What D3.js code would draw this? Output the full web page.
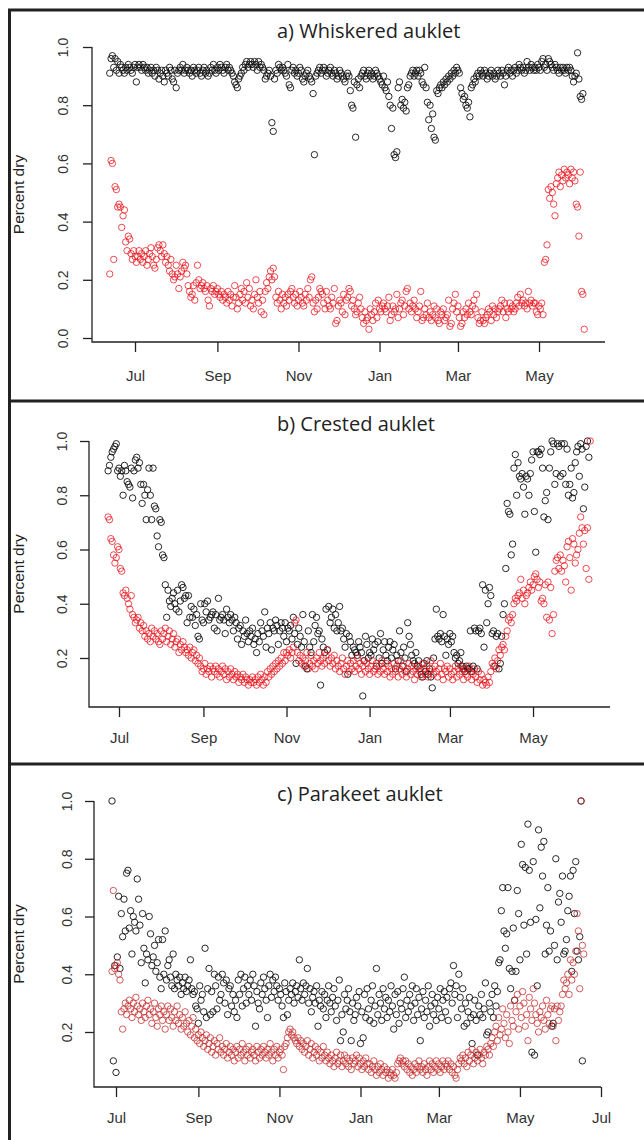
<!DOCTYPE html>
<html>
<head>
<meta charset="utf-8">
<script src="https://cdn.jsdelivr.net/npm/d3@7"></script>
<style>
  body { margin: 0; background: #fff; }
  svg { display: block; }
</style>
</head>
<body>
<div id="chart"></div>
<script>
// ---- data (daily values, percent dry x100) ----
const titles = ["a) Whiskered auklet", "b) Crested auklet", "c) Parakeet auklet"];
const yTicksA = [0, 0.2, 0.4, 0.6, 0.8, 1.0];
const yTicksBC = [0.2, 0.4, 0.6, 0.8, 1.0];
const monthTicks = ["2010-07-01", "2010-09-01", "2010-11-01", "2011-01-01", "2011-03-01", "2011-05-01"];
const monthTicksC = ["2010-07-01", "2010-09-01", "2010-11-01", "2011-01-01", "2011-03-01", "2011-05-01", "2011-07-01"];

const whiskeredStart = "2010-06-12";
const whiskeredBlack = [
  91,96,97,93,96,92,95,91,94,93, 92,91,93,92,94,93,92,91,93,94,
  88,93,94,93,92,94,93,92,93,91, 92,93,91,92,90,93,92,89,91,92, 90,88,92,91,90,93,92,89,88,92,
  86,91,92,93,92,94,91,92,93,92, 91,92,90,93,92,91,92,93,91,90, 92,93,91,92,90,91,93,92,94,92,
  91,93,92,94,93,92,91,93,94,92, 93,92,91,90,88,87,86,89,90,91, 93,92,94,95,93,94,95,94,93,95,
  94,92,95,93,94,93,92,89,90,91, 92,90,74,71,89,92,91,94,93,92, 93,92,91,90,94,87,86,92,93,91,
  92,90,91,93,92,89,88,90,91,92, 90,89,88,84,63,90,91,92,93,91, 92,93,92,90,91,92,93,91,90,92,
  91,89,90,92,91,90,89,88,90,91, 90,85,80,79,88,69,87,89,86,90, 91,92,90,89,91,92,90,91,89,90,
  92,91,90,89,88,87,90,86,85,88, 83,80,72,79,63,62,64,86,88,80, 82,79,81,78,86,87,90,91,92,90,
  91,92,90,92,91,88,87,93,86,81, 75,80,72,77,69,68,85,84,86,87, 86,88,87,89,88,90,89,91,90,92,
  91,93,92,91,86,84,82,83,80,79, 81,76,86,87,89,88,90,91,90,92, 91,90,92,91,89,90,91,92,90,91,
  89,90,92,91,90,92,91,87,90,92, 93,91,92,90,92,93,91,92,94,93, 92,93,91,92,95,93,92,94,93,92,
  93,92,94,93,92,95,96,93,94,92, 96,95,94,93,92,94,93,92,91,93, 92,93,92,91,93,92,93,92,90,88,
  90,91,98,89,83,82,84
];
const whiskeredRed = [
  22,61,60,27,52,51,45,46,45,38, 42,44,33,30,35,34,29,27,30,28,
  26,28,30,27,29,26,28,30,25,27, 29,31,28,25,24,27,31,32,30,28, 32,29,26,28,25,23,27,22,20,21,
  25,22,17,21,23,26,24,25,22,18, 16,14,15,18,13,19,25,20,17,18, 19,17,16,18,13,11,17,16,18,15,
  16,17,15,14,16,13,15,14,12,16, 13,15,11,14,18,14,10,12,15,17, 13,16,12,19,14,17,11,13,10,15,
  20,14,12,16,9,13,8,16,19,17, 21,23,20,24,21,14,12,16,13,10, 15,12,14,11,15,13,16,17,14,12,
  15,11,13,16,14,12,11,15,13,17, 14,20,21,12,9,13,10,14,17,16, 15,12,10,16,13,11,10,14,12,17,
  5,6,11,13,12,9,15,8,13,14, 17,16,11,13,10,8,9,12,14,10, 7,5,9,6,7,3,10,8,6,9,
  12,7,13,10,9,11,12,10,9,11, 14,6,8,11,9,10,15,7,10,12, 13,8,11,16,17,10,12,9,11,13,
  10,7,9,11,16,6,7,10,8,12, 7,9,6,8,11,7,10,6,5,9, 8,10,6,7,8,13,4,5,10,12,
  15,9,11,7,4,5,9,7,10,8, 12,9,8,11,13,10,15,7,5,6, 9,6,5,7,8,10,9,6,11,8,
  10,7,9,10,11,13,9,12,7,10, 9,12,10,11,9,10,12,14,11,15, 12,13,11,12,10,16,12,13,11,12,
  12,9,8,11,10,12,8,26,27,32, 51,48,52,50,46,42,53,55,57,52, 56,54,58,55,57,56,53,58,55,57,
  54,46,45,35,57,16,15,3
];

const crestedStart = "2010-06-23";
const crestedBlack = [
  89,91,94,96,97,98,99,89,
  90,87,89,80,91,89,85,84,83,90, 79,89,93,94,90,92,84,77,84,80, 71,82,90,80,71,90,76,75,65,61,
  71,70,58,57,47,35,45,41,39,42, 44,40,38,45,37,41,47,46,42,43, 33,43,35,39,35,38,32,36,28,27,
  40,34,33,40,37,41,34,35,36,37, 31,36,30,42,34,35,36,34,29,38, 35,33,36,34,30,35,33,27,31,32,
  25,30,28,34,29,26,30,28,31,25, 27,22,29,26,33,30,28,37,24,31, 29,33,23,31,30,34,32,25,30,33,
  31,28,33,26,31,30,32,27,35,29, 18,25,31,28,24,36,26,17,16,30, 24,22,36,26,32,35,29,30,10,27,
  24,22,38,23,39,33,35,38,31,36, 30,33,39,30,31,27,24,29,14,28, 26,21,24,23,22,21,26,24,22,6,
  19,28,25,20,22,21,27,23,25,17, 26,20,29,18,23,26,21,19,24,26, 20,23,25,16,21,19,30,22,17,24,
  20,15,33,28,25,21,19,18,22,17, 19,16,14,13,18,15,19,14,16,13, 9,20,27,38,28,27,29,26,36,28,
  21,27,25,29,26,28,22,20,21,18, 19,22,17,16,15,17,16,16,30,15, 17,31,30,16,30,31,29,47,24,45,
  33,40,46,43,29,30,17,28,29,16, 18,28,36,40,53,77,74,73,58,62, 90,95,80,92,87,86,88,83,73,87,
  86,80,88,93,96,74,59,96,96,95, 97,90,72,78,81,71,90,96,100,99, 84,88,99,98,87,99,88,99,84,97,
  80,84,90,79,81,92,96,98,87,99, 97,75,83,98,100,94
];
const crestedRed = [
  72,71,64,63,58,55,57,61,
  60,53,52,44,43,45,42,40,38,43, 36,35,33,34,35,31,33,30,32,28, 30,27,29,26,31,28,30,27,29,26,
  25,30,27,29,31,26,28,30,25,27, 29,24,26,27,22,25,23,26,24,22, 23,21,24,20,22,23,19,21,18,20,
  17,15,16,18,14,16,15,17,13,16, 15,17,14,16,13,15,17,14,16,12, 15,13,16,14,12,15,13,14,11,13,
  12,14,11,13,12,10,12,11,13,11, 12,10,13,11,14,12,10,13,11,15, 13,16,14,17,15,18,16,19,17,20,
  18,22,19,22,21,23,20,22,24,33, 34,22,19,21,18,20,17,19,22,16, 18,21,17,19,16,20,18,22,19,17,
  20,18,21,23,19,17,20,18,21,16, 19,17,15,18,20,16,14,17,19,15, 18,16,19,15,17,20,16,18,14,17,
  19,15,18,16,14,17,19,15,16,18, 14,17,15,19,16,14,18,15,17,13, 16,14,18,15,17,13,16,19,14,17,
  15,13,16,18,14,17,15,12,16,14, 17,15,13,18,16,14,17,13,15,19, 16,14,17,15,13,16,18,14,12,16,
  15,17,13,16,14,12,15,17,13,16, 14,17,15,12,16,14,13,17,15,12, 14,16,13,11,15,12,14,10,12,11,
  10,13,11,15,18,17,20,16,19,23, 21,24,25,23,28,30,34,35,33,36, 40,42,41,43,44,49,42,45,40,43,
  44,46,48,45,47,50,51,49,46,48, 41,42,40,47,35,48,34,46,29,36, 52,56,57,53,58,52,56,54,48,61,
  63,57,45,64,62,55,58,60,66,72, 68,62,67,53,68,49,100
];

const parakeetStart = "2010-06-28";
const parakeetBlack = [
  100,10,43,
  6,46,67,42,61,53,66,55,75,76, 56,62,47,60,58,55,73,66,57,44, 61,49,37,47,45,60,54,43,46,50,
  41,44,52,39,35,52,40,55,38,43, 45,39,36,47,35,40,38,36,39,33, 37,35,39,34,36,38,45,35,33,34,
  29,28,23,36,31,33,27,49,25,35, 42,26,34,27,40,36,28,39,31,33, 40,37,30,38,26,35,36,29,33,27,
  31,25,38,33,40,29,35,39,30,36, 33,38,31,40,36,22,34,30,28,37, 33,39,35,31,25,36,40,32,38,34,
  39,36,31,35,33,29,25,37,34,26, 31,35,33,37,30,34,36,32,45,35, 31,37,33,36,42,30,35,27,32,34,
  30,36,22,31,29,34,28,33,25,31, 36,30,27,32,35,29,24,31,38,17, 26,20,33,28,31,35,27,17,30,24,
  26,32,29,34,16,27,18,33,25,35, 28,24,31,36,23,29,42,26,33,30, 24,35,28,32,25,31,27,36,29,21,
  33,26,34,23,30,28,35,39,25,31, 27,33,29,36,24,30,35,26,32,17, 28,34,25,31,27,36,22,29,33,26,
  30,24,32,28,35,25,31,34,27,32, 24,35,37,30,43,33,36,25,40,32, 28,35,22,30,23,27,32,25,16,26,
  31,24,12,29,26,33,25,28,37,19, 20,30,27,33,25,36,29,34,44,45, 62,70,55,49,54,70,42,35,41,56,
  31,41,69,61,45,85,78,57,77,47, 92,76,58,13,79,12,59,36,90,63, 84,74,86,47,57,70,48,55,22,23,
  50,80,45,65,68,58,74,47,48,52, 62,67,74,41,76,61,79,48,45,53,100,10
];
const parakeetRed = [
  41,69,42,
  43,44,40,38,27,21,28,30,26,29, 31,28,25,30,27,32,29,26,28,24, 30,27,25,29,31,26,28,23,27,30,
  25,22,28,26,29,24,27,21,26,29, 24,28,25,22,27,24,29,23,26,21, 25,22,27,23,20,24,19,22,25,18,
  21,17,19,16,20,18,15,17,19,14, 16,18,13,15,17,12,16,14,18,13, 15,12,14,16,11,13,15,12,14,10,
  13,15,11,14,12,16,13,10,14,12, 15,11,13,14,12,10,15,13,11,14, 12,15,13,11,14,12,16,13,10,14,
  12,15,11,13,14,12,7,15,16,18, 20,21,19,20,18,17,16,18,15,17, 14,16,13,15,17,12,14,16,11,13,
  15,12,14,10,13,11,15,12,10,13, 11,9,12,10,8,11,13,9,10,12, 8,10,12,9,11,8,10,7,11,9,
  10,12,8,11,9,7,10,8,11,9, 7,9,6,8,10,7,5,8,6,9, 7,5,8,6,7,4,6,5,7,5,
  4,6,9,10,11,9,10,8,10,7, 9,6,8,5,7,9,6,8,10,7, 8,6,9,7,5,8,10,7,9,6,
  8,10,7,9,6,8,10,7,9,8, 10,7,9,6,8,5,4,7,9,11, 10,12,9,11,8,13,10,12,14,9,
  11,13,10,12,14,11,9,13,12,15, 14,12,16,18,15,20,22,17,25,19, 21,28,23,18,26,20,16,29,24,22,
  31,27,33,21,29,25,34,30,22,26, 17,32,28,24,35,30,26,23,20,27, 25,29,24,21,31,26,23,28,29,22,
  28,17,29,24,27,29,33,38,35,37, 40,33,45,38,44,40,48,61,55,35,100,50,47
];

// ---- layout ----
const W = 644, H = 1140;
const parseDay = d3.timeParse("%Y-%m-%d");
const daily = (start, vals) => vals.map((v, i) => ({date: d3.timeDay.offset(parseDay(start), i), v: v / 100}));

const panels = [
  {title: titles[0], start: whiskeredStart, black: whiskeredBlack, red: whiskeredRed, yTicks: yTicksA, xTicks: monthTicks,
   xr: [135, 620.1], yr: [338, 47], axisX: 92, axisY: 342, axisEnd: 605, titleY: 38, redCol: "#e8141b", labOff: 29},
  {title: titles[1], start: crestedStart, black: crestedBlack, red: crestedRed, yTicks: yTicksBC, xTicks: monthTicks,
   xr: [119, 616.1], yr: [712.25, 441], axisX: 89, axisY: 707, axisEnd: 610, titleY: 431, redCol: "#e8141b", labOff: 27},
  {title: titles[2], start: parakeetStart, black: parakeetBlack, red: parakeetRed, yTicks: yTicksBC, xTicks: monthTicksC,
   xr: [116, 601], yr: [1089.75, 801], axisX: 94, axisY: 1087, axisEnd: 601, titleY: 801, redCol: "#c42a2a", labOff: 27}
];

const svg = d3.select("#chart").append("svg")
    .attr("width", W)
    .attr("height", H);

svg.append("rect").attr("width", W).attr("height", H).attr("fill", "#fff");

panels.forEach(p => {
  const x = d3.scaleTime()
      .domain([parseDay("2010-07-01"), parseDay("2011-07-01")])
      .range(p.xr);
  const y = d3.scaleLinear().domain([0, 1]).range(p.yr);
  const g = svg.append("g");

  // L-shaped box
  g.append("path")
      .attr("d", `M${p.axisX},${y(1)}V${p.axisY}H${p.axisEnd}`)
      .attr("fill", "none")
      .attr("stroke", "#222")
      .attr("stroke-width", 1.3);

  const yAxis = g.append("g")
      .attr("transform", `translate(${p.axisX},0)`)
      .call(d3.axisLeft(y).tickValues(p.yTicks).tickSize(9).tickFormat(d3.format(".1f")));
  yAxis.select(".domain").remove();
  yAxis.selectAll("line").attr("stroke", "#222").attr("stroke-width", 1.3);
  yAxis.selectAll("text")
      .attr("x", 0).attr("y", 0)
      .attr("dy", "0.35em")
      .attr("text-anchor", "middle")
      .attr("transform", `translate(${-p.labOff},0) rotate(-90)`)
      .attr("fill", "#333")
      .style("font", "14px 'Liberation Sans', Arial, sans-serif");

  const xAxis = g.append("g")
      .attr("transform", `translate(0,${p.axisY})`)
      .call(d3.axisBottom(x).tickValues(p.xTicks.map(parseDay)).tickSize(10).tickFormat(d3.timeFormat("%b")));
  xAxis.select(".domain").remove();
  xAxis.selectAll("line").attr("stroke", "#222").attr("stroke-width", 1.3);
  xAxis.selectAll("text")
      .attr("y", p.axisY === 342 ? 28 : 25)
      .attr("fill", "#333")
      .style("font", "15px 'Liberation Sans', Arial, sans-serif");

  g.append("text")
      .attr("transform", `translate(24,${(y(1) + p.axisY) / 2}) rotate(-90)`)
      .attr("text-anchor", "middle")
      .attr("fill", "#222")
      .style("font", "15.5px 'Liberation Sans', Arial, sans-serif")
      .text("Percent dry");

  g.append("text")
      .attr("x", 277)
      .attr("y", p.titleY)
      .attr("fill", "#222")
      .style("font", "20px 'Open Sans', sans-serif")
      .text(p.title);

  g.append("g").selectAll("circle")
      .data(daily(p.start, p.black))
      .enter().append("circle")
      .attr("cx", d => x(d.date))
      .attr("cy", d => y(d.v))
      .attr("r", 3.2)
      .attr("fill", "none")
      .attr("stroke", "#111")
      .attr("stroke-width", 0.9);

  g.append("g").selectAll("circle")
      .data(daily(p.start, p.red))
      .enter().append("circle")
      .attr("cx", d => x(d.date))
      .attr("cy", d => y(d.v))
      .attr("r", 3.2)
      .attr("fill", "none")
      .attr("stroke", p.redCol)
      .attr("stroke-opacity", 0.85)
      .attr("stroke-width", 0.9);
});

// panel frames
[10, 401, 764].forEach(yy => {
  svg.append("line")
      .attr("x1", 8).attr("x2", W)
      .attr("y1", yy).attr("y2", yy)
      .attr("stroke", "#222")
      .attr("stroke-width", 3);
});
svg.append("line")
    .attr("x1", 9.5).attr("x2", 9.5)
    .attr("y1", 9).attr("y2", H)
    .attr("stroke", "#222")
    .attr("stroke-width", 3);
</script>
</body>
</html>
